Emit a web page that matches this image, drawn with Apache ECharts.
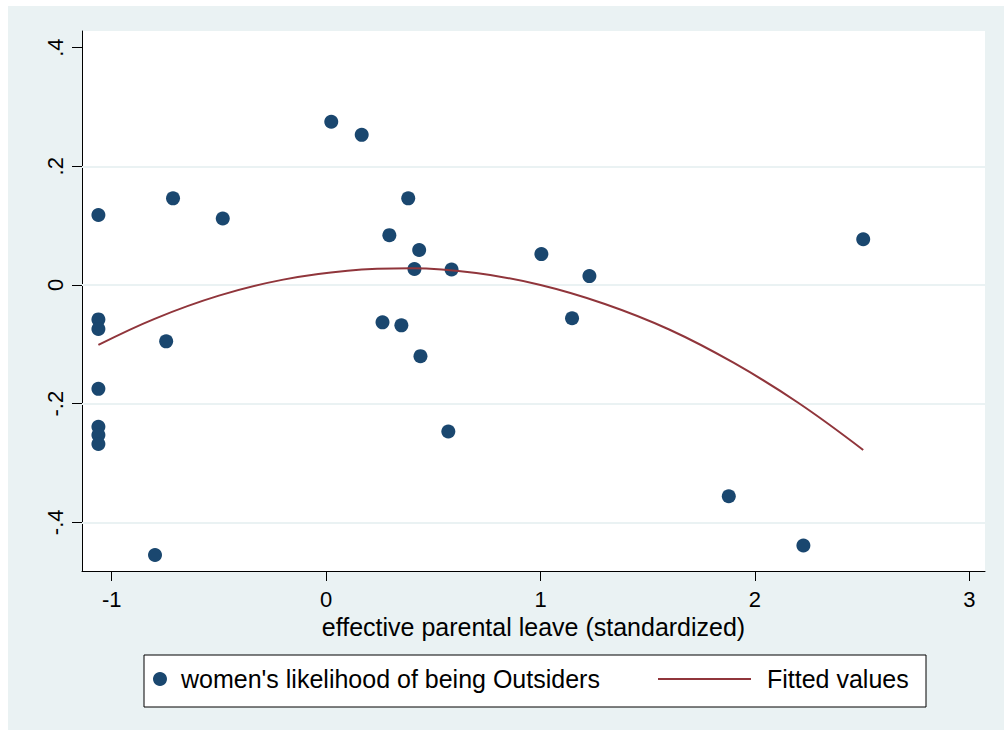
<!DOCTYPE html>
<html>
<head>
<meta charset="utf-8">
<script src="https://cdn.jsdelivr.net/npm/echarts@6/dist/echarts.min.js"></script>
<style>
  html, body { margin: 0; padding: 0; background: #ffffff; }
  #chart { position: absolute; left: 8px; top: 6px; width: 996px; height: 724px; }
</style>
</head>
<body>
<div id="chart"></div>
<script>
// Women's likelihood of being outsiders vs. effective parental leave (standardized)
const leaveX = [-1.062, -1.062, -1.062, -1.062, -1.062, -1.062, -1.062,
  -0.714, -0.746, -0.798, -0.482, 0.024, 0.166, 0.383, 0.295, 0.434, 0.412,
  0.585, 0.263, 0.351, 0.440, 0.570, 1.004, 1.228, 1.147, 1.878, 2.226, 2.505];
const outsiderY = [0.118, -0.058, -0.074, -0.175, -0.239, -0.253, -0.268,
  0.146, -0.095, -0.455, 0.112, 0.275, 0.253, 0.146, 0.084, 0.059, 0.027,
  0.026, -0.063, -0.068, -0.120, -0.247, 0.052, 0.015, -0.056, -0.356, -0.439, 0.077];

// Quadratic fitted values
const fitX = [-1.062, -0.8, -0.5, -0.2, 0.1, 0.4, 0.7, 1.0, 1.3, 1.6, 1.9, 2.2, 2.505];
const fitY = [-0.101, -0.057, -0.018, 0.009, 0.024, 0.028, 0.020, 0.000, -0.032, -0.075, -0.131, -0.198, -0.278];

// Axis ticks
const xTicks = [-1, 0, 1, 2, 3];
const yTicks = [0.4, 0.2, 0, -0.2, -0.4];
const yTickLabels = ['.4', '.2', '0', '-.2', '-.4'];
const yGridValues = [0.2, 0, -0.2, -0.4];

const seriesNames = ["women's likelihood of being Outsiders", 'Fitted values'];
const xTitle = 'effective parental leave (standardized)';

const FONT = "'Liberation Sans', Arial, Helvetica, sans-serif";
const NAVY = '#1a476f';
const MAROON = '#90353b';

const chart = echarts.init(document.getElementById('chart'), null, { renderer: 'svg' });

const scatterData = leaveX.map((x, i) => [x, outsiderY[i]]);
const fitData = fitX.map((x, i) => [x, fitY[i]]);

chart.setOption({
  backgroundColor: '#eaf2f3',
  animation: false,
  grid: { left: 74, top: 25, right: 19, bottom: 159, show: true, backgroundColor: '#ffffff', borderWidth: 0 },
  xAxis: {
    type: 'value',
    min: -1.1385,
    max: 3.073,
    name: xTitle,
    nameLocation: 'middle',
    nameGap: 43,
    nameTextStyle: { fontFamily: FONT, fontSize: 25, color: '#000' },
    axisLine: { show: true, onZero: false, lineStyle: { color: '#000', width: 1 } },
    axisTick: { show: true, length: 10, lineStyle: { color: '#000', width: 1 }, customValues: xTicks },
    axisLabel: { fontFamily: FONT, fontSize: 22, color: '#000', margin: 17, customValues: xTicks,
      formatter: v => String(v) },
    splitLine: { show: false }
  },
  yAxis: {
    type: 'value',
    min: -0.482,
    max: 0.428,
    axisLine: { show: true, onZero: false, lineStyle: { color: '#000', width: 1 } },
    axisTick: { show: true, length: 10, lineStyle: { color: '#000', width: 1 }, customValues: yTicks },
    axisLabel: { fontFamily: FONT, fontSize: 22, color: '#000', margin: 16, rotate: 90,
      customValues: yTicks,
      formatter: v => {
        const i = yTicks.findIndex(t => Math.abs(t - v) < 1e-9);
        return i >= 0 ? yTickLabels[i] : '';
      } },
    splitLine: { show: false }
  },
  legend: [
    {
      data: [seriesNames[0]],
      left: 145, top: 659,
      padding: 0,
      itemWidth: 14, itemHeight: 14,
      icon: 'circle',
      textStyle: { fontFamily: FONT, fontSize: 25, color: '#000', lineHeight: 28, padding: [0, 0, 0, 9] }
    },
    {
      data: [seriesNames[1]],
      left: 649, top: 659,
      padding: 0,
      itemWidth: 93, itemHeight: 14,
      itemStyle: { opacity: 0 },
      lineStyle: { color: MAROON, width: 2, opacity: 1 },
      textStyle: { fontFamily: FONT, fontSize: 25, color: '#000', lineHeight: 28, padding: [0, 0, 0, 11] }
    }
  ],
  graphic: [
    {
      type: 'rect',
      z: -1,
      shape: { x: 136, y: 649, width: 782, height: 52 },
      style: { fill: '#ffffff', stroke: '#000000', lineWidth: 1 }
    }
  ],
  series: [
    {
      name: 'grid',
      type: 'line',
      data: [],
      z: 1,
      silent: true,
      markLine: {
        z: 1,
        silent: true,
        symbol: 'none',
        label: { show: false },
        lineStyle: { color: '#eaf2f3', width: 2, type: 'solid' },
        data: yGridValues.map(v => ({ yAxis: v }))
      }
    },
    {
      name: seriesNames[0],
      type: 'scatter',
      data: scatterData,
      symbol: 'circle',
      symbolSize: 14,
      itemStyle: { color: NAVY, opacity: 1 },
      z: 3
    },
    {
      name: seriesNames[1],
      type: 'line',
      data: fitData,
      smooth: 0.4,
      showSymbol: false,
      symbol: 'none',
      lineStyle: { color: MAROON, width: 2 },
      itemStyle: { color: MAROON },
      z: 4
    }
  ]
});
</script>
</body>
</html>
